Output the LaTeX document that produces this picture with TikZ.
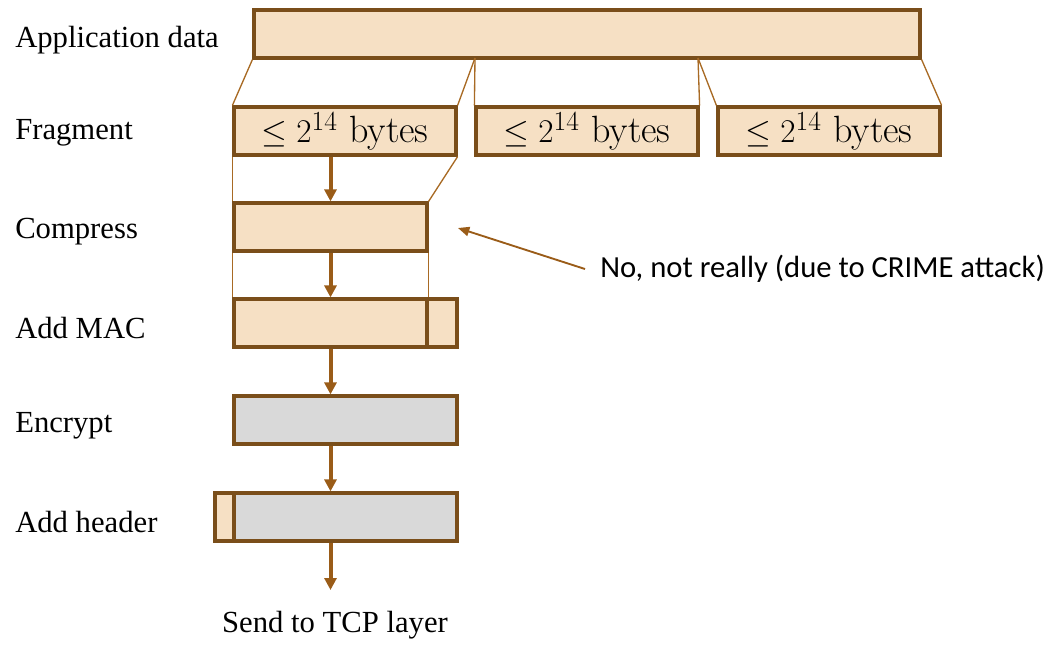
\documentclass[tikz,border=0pt]{standalone}
\usepackage{fontspec}
\setmainfont{Liberation Serif}
\newfontfamily\notefont{Carlito}
\newfontfamily\lmfont{Latin Modern Roman}
\usetikzlibrary{arrows.meta,calc}
\definecolor{peach}{HTML}{F6E0C4}
\definecolor{edgebrown}{HTML}{7A4E1A}
\definecolor{arrowbrown}{HTML}{9A5C18}
\definecolor{thinbrown}{HTML}{A86A24}
\definecolor{cipher}{HTML}{D9D9D9}
\tikzset{
  px/.style={x=0.75pt,y=-0.75pt},
  record/.style={rectangle,draw=edgebrown,line width=2.4pt,inner sep=0pt,
    minimum height=36pt},
  plain/.style={record,fill=peach},
  sealed/.style={record,fill=cipher},
  stage/.style={anchor=west,inner sep=0pt,font=\fontsize{23}{27}\selectfont},
  flow/.style={draw=arrowbrown,line width=3pt,-{Triangle[length=9pt,width=9pt]}},
  split/.style={draw=thinbrown,line width=1pt},
  note/.style={draw=arrowbrown,line width=1.4pt,-{Triangle[length=8.5pt,width=7pt]}},
  fragtext/.style={font=\lmfont\fontsize{28.5}{33}\selectfont}
}
\begin{document}
\begin{tikzpicture}[px]
\useasboundingbox (0,0) rectangle (1050,644);

% step labels
\node[stage] (lapp) at (15,40) {Application data};
\node[stage] (lfrag) at (15,133) {Fragment};
\node[stage] (lcomp) at (15,232) {Compress};
\node[stage] (lmac) at (15,328) {Add MAC};
\node[stage] (lenc) at (15,426) {Encrypt};
\node[stage] (lhdr) at (15,522) {Add header};

% application data and its fragments
\node[plain,minimum width=499.5pt] (app) at (587,34) {};
\node[plain,minimum width=166.5pt,fragtext] (f1) at (345,131) {$\leq 2^{14}$ bytes};
\node[plain,minimum width=166.5pt,fragtext] (f2) at (587,131) {$\leq 2^{14}$ bytes};
\node[plain,minimum width=166.5pt,fragtext] (f3) at (829,131) {$\leq 2^{14}$ bytes};

\coordinate (cutA) at (475,58);
\coordinate (cutB) at (698,58);
\draw[split] (app.south west) -- (f1.north west);
\draw[split] (cutA) -- (f1.north east);
\draw[split] (cutA) -- (f2.north west);
\draw[split] (cutB) -- (f2.north east);
\draw[split] (cutB) -- (f3.north west);
\draw[split] (app.south east) -- (f3.north east);

% processing of the first fragment
\node[plain,minimum width=144.75pt] (comp) at (330.5,227) {};
\node[plain,minimum width=144.75pt] (mac) at (330.5,323) {};
\node[plain,minimum width=22.5pt] (tag) at (442,323) {};
\node[sealed,minimum width=167.25pt] (enc) at (345.5,420) {};
\node[plain,minimum width=14.25pt] (hdr) at (224.5,517) {};
\node[sealed,minimum width=167.25pt] (body) at (345.5,517) {};
\node[font=\fontsize{23}{27}\selectfont] (tcp) at (335,625) {Send to TCP layer};
\coordinate (out) at (330.5,590);

\draw[split] (f1.south west) -- (comp.north west);
\draw[split] (f1.south east) -- (comp.north east);
\draw[split] (comp.south west) -- (mac.north west);
\draw[split] (comp.south east) -- (mac.north east);

\draw[flow] (f1.south -| comp.north) -- (comp.north);
\draw[flow] (comp.south) -- (mac.north);
\draw[flow] (mac.south) -- (enc.north -| mac.south);
\draw[flow] (enc.south -| mac.south) -- (body.north -| mac.south);
\draw[flow] (body.south -| mac.south) -- (out);

% remark on compression
\node[anchor=west,inner sep=0pt,font=\notefont\fontsize{23}{27}\selectfont] (remark) at (600,269)
  {No, not really (due to CRIME attack)};
\coordinate (hint) at (458,228);
\draw[note] (remark.west) ++(-15,0) -- (hint);
\end{tikzpicture}
\end{document}
